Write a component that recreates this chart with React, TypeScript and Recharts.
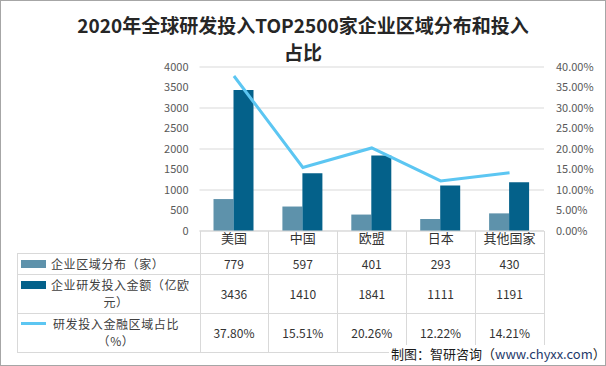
import React from 'react'
import {
  ComposedChart, Bar, Line, XAxis, YAxis, CartesianGrid
} from 'recharts'

const categories = ['美国', '中国', '欧盟', '日本', '其他国家']
const companyCounts = [779, 597, 401, 293, 430]
const rdSpend = [3436, 1410, 1841, 1111, 1191]
const rdShare = [0.378, 0.1551, 0.2026, 0.1222, 0.1421]
const leftTicks = [0, 500, 1000, 1500, 2000, 2500, 3000, 3500, 4000]
const rightTicks = [0, 0.05, 0.1, 0.15, 0.2, 0.25, 0.3, 0.35, 0.4]
const seriesLabels = [
  ['企业区域分布（家）'],
  ['企业研发投入金额（亿欧', '元）'],
  ['研发投入金融区域占比', '（%）'],
]

const data = categories.map((name, i) => ({
  name,
  count: companyCounts[i],
  spend: rdSpend[i],
  share: rdShare[i],
}))

const W = 606
const H = 366
const PLOT_L = 199.5
const PLOT_R = 544
const PLOT_T = 67
const PLOT_B = 231
const TABLE_L = 16.7
const ROW_Y = [231, 253, 274, 313, 352]
const FONT = '"Noto Sans CJK SC", "Noto Sans", sans-serif'
const GRID = '#d9d9d9'
const LIGHT = '#5e92ab'
const DARK = '#04618a'
const SKY = '#5cc6f2'

const pct = (v: number) => `${(v * 100).toFixed(2)}%`

function DataTable() {
  const colW = (PLOT_R - PLOT_L) / categories.length
  const rows = [
    { vals: companyCounts.map(String), key: 'bar', color: LIGHT },
    { vals: rdSpend.map(String), key: 'bar', color: DARK },
    { vals: rdShare.map(pct), key: 'line', color: SKY },
  ]
  const lines: React.ReactNode[] = []
  ROW_Y.slice(1).forEach((y, i) => {
    lines.push(<div key={'h' + i} style={{ position: 'absolute', left: TABLE_L, top: y, width: PLOT_R - TABLE_L, height: 1, background: GRID }} />)
  })
  lines.push(<div key="vl" style={{ position: 'absolute', left: TABLE_L, top: ROW_Y[1], width: 1, height: ROW_Y[4] - ROW_Y[1], background: GRID }} />)
  for (let c = 0; c <= categories.length; c++) {
    lines.push(<div key={'v' + c} style={{ position: 'absolute', left: PLOT_L + c * colW, top: ROW_Y[0], width: 1, height: ROW_Y[4] - ROW_Y[0], background: GRID }} />)
  }
  return (
    <>
      {lines}
      {rows.map((row, r) => {
        const top = ROW_Y[r + 1]
        const h = ROW_Y[r + 2] - top
        const label = seriesLabels[r]
        const firstLineY = label.length > 1 ? top + 2 : top + (h - 17) / 2
        return (
          <React.Fragment key={r}>
            <div style={{
              position: 'absolute', left: 20.5, width: 25.5,
              top: firstLineY + 8.5 - (row.key === 'bar' ? 4 : 1.5),
              height: row.key === 'bar' ? 8 : 3, background: row.color,
            }} />
            <div style={{
              position: 'absolute', left: 51, top: firstLineY, width: label.length > 1 ? 130 : 140,
              fontSize: 12, letterSpacing: 0.6, lineHeight: '17px', color: '#404040',
              textAlign: label.length > 1 ? 'center' : 'left', whiteSpace: 'nowrap',
            }}>
              {label.map((t, k) => <div key={k}>{t}</div>)}
            </div>
            {row.vals.map((v, c) => (
              <div key={c} style={{
                position: 'absolute', left: PLOT_L + c * colW, width: colW, top, height: h,
                display: 'flex', alignItems: 'center', justifyContent: 'center',
                fontSize: 12, color: '#333',
              }}>{v}</div>
            ))}
          </React.Fragment>
        )
      })}
    </>
  )
}

export default function App() {
  return (
    <div style={{ position: 'absolute', left: 0, top: 0, width: W, height: H, background: '#fff', fontFamily: FONT }}>
      <div style={{
        position: 'absolute', left: 0, top: 11, width: W, textAlign: 'center',
        fontSize: 19, fontWeight: 'bold', lineHeight: '27px', color: '#262626',
      }}>
        <div>2020年全球研发投入TOP2500家企业区域分布和投入</div>
        <div>占比</div>
      </div>
      <ComposedChart
        width={W}
        height={H}
        data={data}
        margin={{ top: PLOT_T, right: 0, left: 0, bottom: H - PLOT_B - 22 }}
        barGap={0}
        style={{ position: 'absolute', left: 0, top: 0, fontFamily: FONT }}
      >
        <CartesianGrid yAxisId="left" vertical={false} stroke={GRID} />
        <XAxis
          dataKey="name"
          height={22}
          tickSize={0}
          tickMargin={3}
          axisLine={{ stroke: GRID }}
          tick={{ fill: '#333', fontSize: 13 }}
        />
        <YAxis
          yAxisId="left"
          width={PLOT_L}
          domain={[0, 4000]}
          ticks={leftTicks}
          tickSize={0}
          tickMargin={11}
          axisLine={false}
          tick={{ fill: '#595959', fontSize: 11 }}
        />
        <YAxis
          yAxisId="right"
          orientation="right"
          width={W - PLOT_R}
          domain={[0, 0.4]}
          ticks={rightTicks}
          tickFormatter={pct}
          tickSize={0}
          tickMargin={12}
          axisLine={false}
          tick={{ fill: '#595959', fontSize: 11, textAnchor: 'start' }}
        />
        <Bar yAxisId="left" dataKey="count" fill={LIGHT} barSize={20} isAnimationActive={false} />
        <Bar yAxisId="left" dataKey="spend" fill={DARK} barSize={20} isAnimationActive={false} />
        <Line
          yAxisId="right"
          dataKey="share"
          stroke={SKY}
          strokeWidth={3}
          dot={false}
          activeDot={false}
          isAnimationActive={false}
        />
      </ComposedChart>
      <DataTable />
      <div style={{
        position: 'absolute', left: 389, top: 345, background: '#fff', padding: '0 2px',
        fontSize: 13, lineHeight: '18px', color: '#1a1a1a', whiteSpace: 'nowrap',
      }}>
        制图：智研咨询（<span style={{ color: '#1f3a6b' }}>www.chyxx.com</span>）
      </div>
      <div style={{ position: 'absolute', left: 0, top: 0, width: W, height: H, boxSizing: 'border-box', border: '1px solid #a6a6a6', pointerEvents: 'none' }} />
    </div>
  )
}
